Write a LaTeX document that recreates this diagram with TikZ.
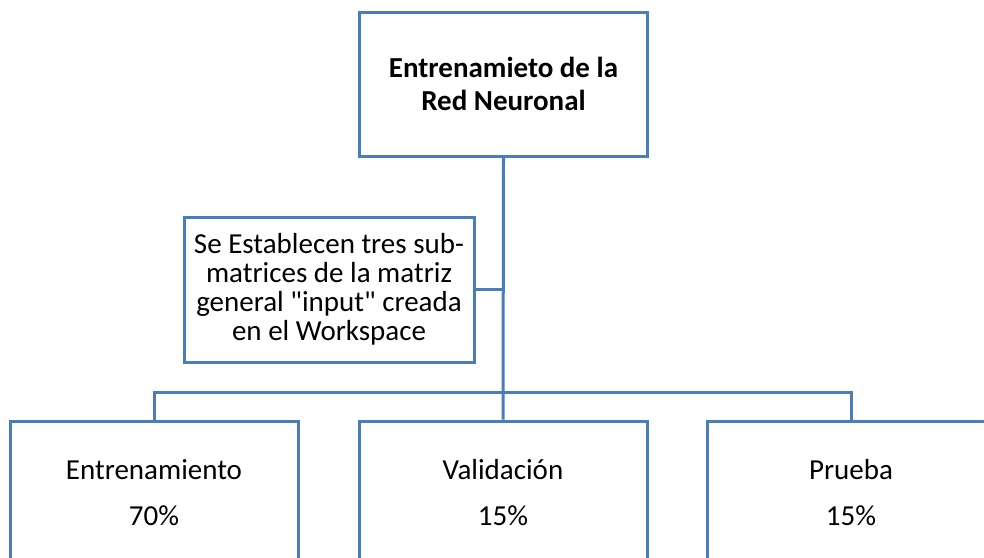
\documentclass[tikz,border=0pt]{standalone}
\usepackage{fontspec}
\setmainfont{Carlito}
\usetikzlibrary{positioning,calc}
\definecolor{boxblue}{HTML}{4A7EBB}

\begin{document}
\begin{tikzpicture}[
  x=0.5pt, y=-0.5pt,
  every node/.style={font=\fontsize{14.5}{14.5}\selectfont},
  box/.style={rectangle, draw=boxblue, line width=1.5pt, fill=white,
    minimum width=144pt, minimum height=72pt, inner sep=3pt, align=center},
  notebox/.style={box, minimum width=145pt, minimum height=72.5pt},
  link/.style={draw=boxblue, line width=1.5pt}
]
\useasboundingbox (0,0) rectangle (984,557);
\clip (0,0) rectangle (984,557);

% --- nodes (absolute placement for fidelity) ---
\node[box, font=\bfseries\fontsize{14.5}{16.5}\selectfont] (red) at (503.5,84)
  {Entrenamieto de la\\Red Neuronal};
\node[notebox] (note) at (329,289.5)
  {Se Establecen tres sub-\\matrices de la matriz\\general \textquotedbl input\textquotedbl{} creada\\en el Workspace};
\node[box] (train) at (154,493) {Entrenamiento\\[8.5pt]70\%};
\node[box] (valid) at (503,493) {Validación\\[8.5pt]15\%};
\node[box] (test)  at (851,493) {Prueba\\[8.5pt]15\%};

% --- connectors ---
\coordinate (bus) at (503,392);
\draw[link] (red.south) -- (valid.north);
\draw[link] (note.east) -- (note.east -| bus);
\draw[link] (train.north) |- (bus) -| (test.north);

\end{tikzpicture}
\end{document}
